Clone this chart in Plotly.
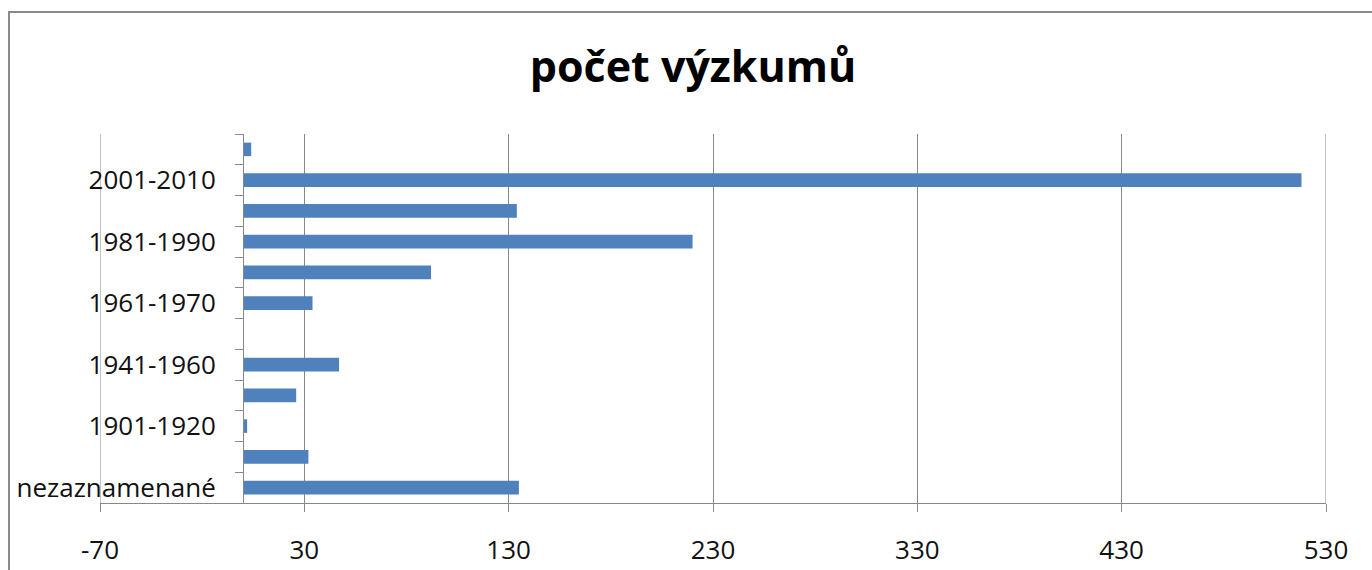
import plotly.graph_objects as go

# Data (bottom to top)
categories = ["nezaznamenané", "do 1900", "1901-1920", "1921-1940", "1941-1960",
              "1951-1960", "1961-1970", "1971-1980", "1981-1990", "1991-2000",
              "2001-2010", "2011-"]
values = [135, 32, 2, 26, 47, 0, 34, 92, 220, 134, 518, 4]
shown_labels = ["nezaznamenané", "1901-1920", "1941-1960", "1961-1970", "1981-1990", "2001-2010"]
x_ticks = list(range(-70, 531, 100))

W, H = 1372, 570
ML, MR, MT, MB = 100, 46, 134, 67
plot_w = W - ML - MR
plot_h = H - MT - MB

xmin, xmax = x_ticks[0], x_ticks[-1]
pos = list(range(len(categories)))
gray = "#888888"
font_family = "Open Sans"

fig = go.Figure()
fig.add_trace(go.Bar(
    x=values, y=pos, orientation="h", width=0.44,
    marker=dict(color="#4F81BD", line=dict(width=0)),
    hoverinfo="x+text", text=categories, textposition="none",
))

label_pos = [categories.index(c) for c in shown_labels]

edge_lines = [dict(type="line", xref="x", yref="paper", x0=v, x1=v, y0=0, y1=1,
                   line=dict(color=gray, width=1), layer="below")
              for v in (xmin, xmax)]

frame = dict(type="rect", xref="paper", yref="paper",
             x0=(9 - ML) / plot_w, x1=(W + 20 - ML) / plot_w,
             y0=(H - MB - (H + 20)) / plot_h, y1=(H - MB - 12) / plot_h,
             line=dict(color="#8a8a8a", width=2), fillcolor="rgba(0,0,0,0)")

fig.update_layout(
    width=W, height=H,
    margin=dict(l=ML, r=MR, t=MT, b=MB, autoexpand=False),
    paper_bgcolor="white", plot_bgcolor="white",
    showlegend=False,
    title=dict(text="<b>počet výzkumů</b>", x=693 / W, xref="container", xanchor="center",
               y=1 - 67 / H, yref="container", yanchor="middle",
               font=dict(family=font_family, size=43, color="#000000")),
    xaxis=dict(range=[xmin, xmax], tickvals=x_ticks, ticktext=[str(v) for v in x_ticks],
               automargin=False,
               showgrid=True, gridcolor=gray, gridwidth=1, zeroline=False,
               showline=True, linecolor=gray, linewidth=1,
               ticks="outside", ticklen=8, tickcolor=gray,
               ticklabelstandoff=16,
               tickfont=dict(family=font_family, size=26, color="#111111")),
    yaxis=dict(range=[-0.5, len(categories) - 0.5], anchor="free",
               position=(0 - xmin) / (xmax - xmin), automargin=False,
               tickvals=label_pos, ticktext=shown_labels,
               ticks="outside", ticklen=22, tickcolor="rgba(0,0,0,0)",
               minor=dict(tickvals=[p - 0.5 for p in pos] + [len(categories) - 0.5],
                          ticks="outside", ticklen=8, tickcolor=gray, showgrid=False),
               showgrid=False, zeroline=False,
               showline=True, linecolor=gray, linewidth=1,
               tickfont=dict(family=font_family, size=26, color="#111111")),
    shapes=edge_lines + [frame],
)

fig.write_html("out.html", config={"displayModeBar": False},
               post_script="document.body.style.margin='0';")
